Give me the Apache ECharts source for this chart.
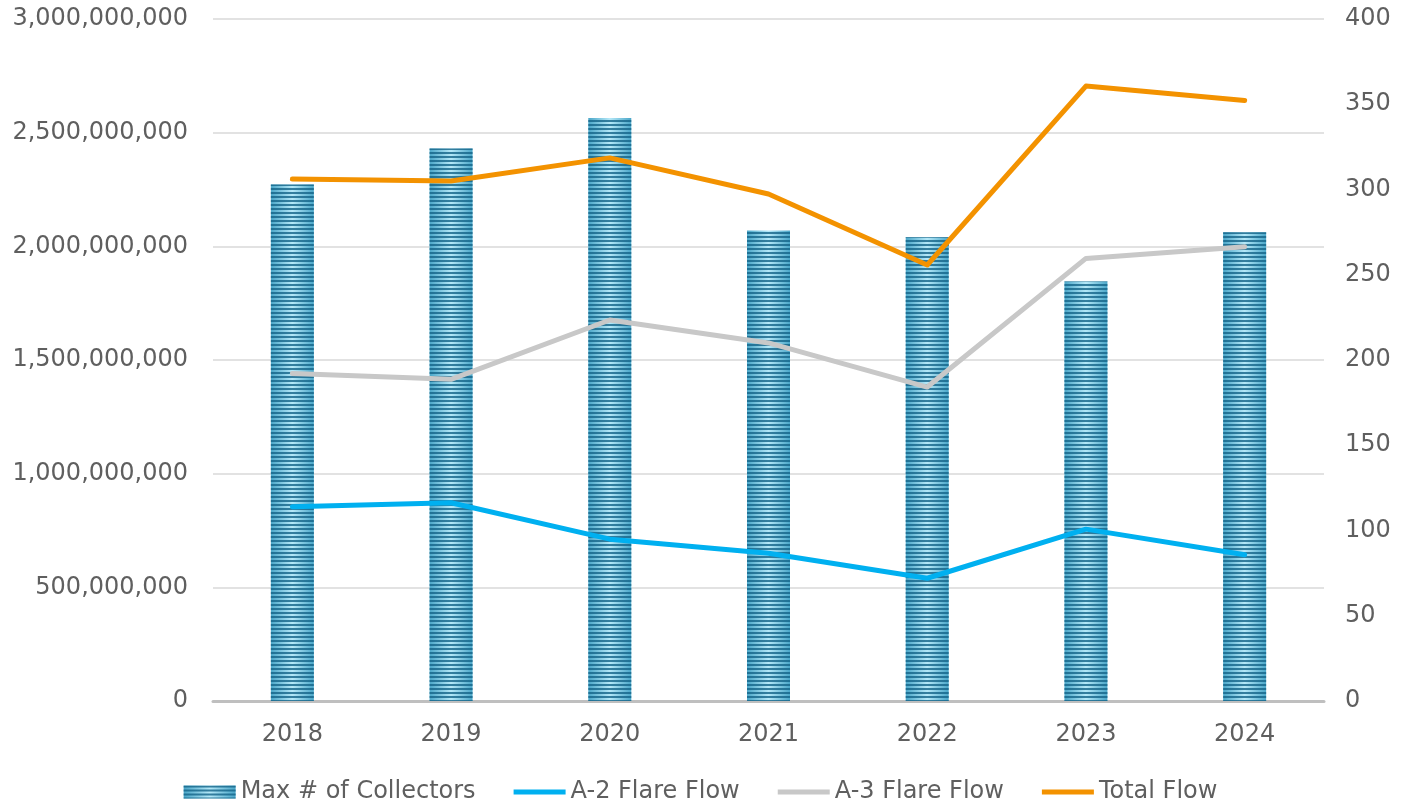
<!DOCTYPE html>
<html>
<head>
<meta charset="utf-8">
<script src="https://cdn.jsdelivr.net/npm/echarts@6/dist/echarts.min.js"></script>
<style>
  html, body { margin: 0; padding: 0; background: #fff; }
  #chart { width: 1401px; height: 802px; }
</style>
</head>
<body>
<div id="chart"></div>
<script>
// data
var years = ["2018", "2019", "2020", "2021", "2022", "2023", "2024"];
var collectors = [303, 324, 342, 276, 272, 246, 275];
var a2Flow = [855000000, 872000000, 712000000, 650000000, 540000000, 756000000, 643000000];
var a3Flow = [1441000000, 1415000000, 1676000000, 1575000000, 1381000000, 1947000000, 1998000000];
var totalFlow = [2296000000, 2287000000, 2389000000, 2230000000, 1918000000, 2705000000, 2641000000];

(function () {
  var myChart = echarts.init(document.getElementById("chart"));
  var font = "DejaVu Sans, Verdana, sans-serif";
  var lineIcon = "path://M0,0 L52,0 L52,5 L0,5 Z";

  var option = {
    animation: false,
    textStyle: { fontFamily: font },
    grid: {
      left: 213,
      right: 77,
      top: 19,
      bottom: 101
    },
    legend: {
      top: 775,
      left: "center",
      itemWidth: 52,
      itemHeight: 13,
      itemGap: 38,
      textStyle: { color: "#5f5f5f", fontSize: 24, fontFamily: font },
      data: [
        { name: "Max # of Collectors", icon: "rect" },
        { name: "A-2 Flare Flow", icon: lineIcon },
        { name: "A-3 Flare Flow", icon: lineIcon },
        { name: "Total Flow", icon: lineIcon }
      ]
    },
    xAxis: {
      type: "category",
      data: years,
      axisTick: { show: false },
      axisLine: { lineStyle: { color: "#bfbfbf", width: 3 } },
      axisLabel: { color: "#5f5f5f", fontSize: 24, margin: 22 }
    },
    yAxis: [
      {
        type: "value",
        min: 0,
        max: 3000000000,
        interval: 500000000,
        axisLine: { show: false },
        axisTick: { show: false },
        axisLabel: {
          color: "#5f5f5f",
          fontSize: 24,
          margin: 25,
          formatter: function (v) { return v.toLocaleString("en-US"); }
        },
        splitLine: { lineStyle: { color: "#d9d9d9", width: 1.5 } }
      },
      {
        type: "value",
        min: 0,
        max: 400,
        interval: 50,
        axisLine: { show: false },
        axisTick: { show: false },
        axisLabel: { color: "#5f5f5f", fontSize: 24, margin: 21 },
        splitLine: { show: false }
      }
    ],
    series: [
      {
        name: "Max # of Collectors",
        type: "bar",
        yAxisIndex: 1,
        barWidth: 43,
        data: collectors,
        itemStyle: {
          color: {
            type: "linear", x: 0, y: 0, x2: 1, y2: 0,
            colorStops: [
              { offset: 0, color: "#4aa6c8" },
              { offset: 0.5, color: "#b4e8f8" },
              { offset: 1, color: "#4aa6c8" }
            ]
          },
          decal: {
            symbol: "rect",
            symbolSize: 1,
            color: "rgba(20, 100, 136, 0.8)",
            dashArrayX: [1, 0],
            dashArrayY: [2, 2],
            rotation: 0
          }
        }
      },
      {
        name: "A-2 Flare Flow",
        type: "line",
        data: a2Flow,
        symbol: "none",
        lineStyle: { color: "#00b0f0", width: 5, cap: "round", join: "round" },
        itemStyle: { color: "#00b0f0" }
      },
      {
        name: "A-3 Flare Flow",
        type: "line",
        data: a3Flow,
        symbol: "none",
        lineStyle: { color: "#c8c8c8", width: 5, cap: "round", join: "round" },
        itemStyle: { color: "#c8c8c8" }
      },
      {
        name: "Total Flow",
        type: "line",
        data: totalFlow,
        symbol: "none",
        lineStyle: { color: "#f39200", width: 5, cap: "round", join: "round" },
        itemStyle: { color: "#f39200" }
      }
    ]
  };

  myChart.setOption(option);
  window.addEventListener("resize", function () {
    myChart.resize();
  });
})();
</script>
</body>
</html>
